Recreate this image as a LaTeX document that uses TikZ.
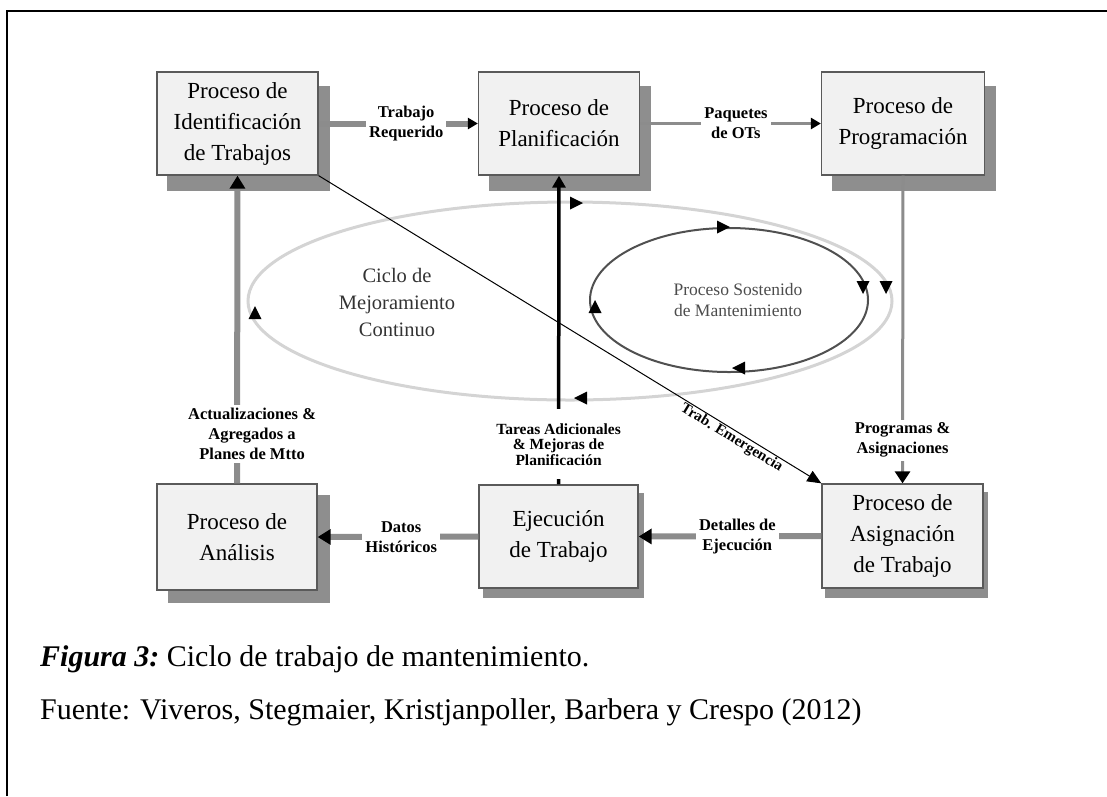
\documentclass[tikz,border=0pt]{standalone}
\usepackage{fontspec}
\setmainfont{Liberation Serif}
\usetikzlibrary{arrows.meta,backgrounds,calc}

\definecolor{boxfill}{HTML}{F1F1F1}
\definecolor{boxedge}{HTML}{5A5A5A}
\definecolor{shadowgray}{HTML}{8E8E8E}
\definecolor{flowgray}{HTML}{8C8C8C}
\definecolor{bigring}{HTML}{D4D4D4}
\definecolor{smallring}{HTML}{505050}

% filled arrowhead drawn on the two cycles: x, y, direction angle
\newcommand{\ringtip}[3]{\fill[black,shift={(#1,#2)},rotate=#3] (7,0) -- (-6,6.5) -- (-6,-6.5) -- cycle;}

\begin{document}
\begin{tikzpicture}[x=1pt,y=-1pt,
  box/.style={draw=boxedge,line width=1.3pt,fill=boxfill,align=center,inner sep=0pt,
    font=\fontsize{23}{31}\selectfont},
  lbl/.style={fill=white,align=center,inner sep=3pt,
    font=\bfseries\fontsize{16.5}{20}\selectfont},
  flow/.style={draw=flowgray,line width=6pt,
    -{Triangle[length=13pt,width=15pt,color=black]}},
  thinflow/.style={draw=flowgray,line width=3pt,
    -{Triangle[length=10pt,width=11pt,color=black]}},
]
\useasboundingbox (0,0) rectangle (1107,796);

% page frame (open at right and bottom)
\draw[line width=1.5pt] (7,796) -- (7,11) -- (1107,11);

% process boxes
\node[box,minimum width=161pt,minimum height=103pt] (b1) at (237.5,123.5) {Proceso de\\Identificación\\de Trabajos};
\node[box,minimum width=161pt,minimum height=103pt] (b2) at (559,123.5) {Proceso de\\Planificación};
\node[box,minimum width=163pt,minimum height=103pt] (b3) at (903,123.5) {Proceso de\\Programación};
\node[box,minimum width=160pt,minimum height=106pt] (b4) at (237,537) {Proceso de\\Análisis};
\node[box,minimum width=159pt,minimum height=103pt] (b5) at (558.5,536.5) {Ejecución\\de Trabajo};
\node[box,minimum width=161pt,minimum height=104pt] (b6) at (902.5,536) {Proceso de\\Asignación\\de Trabajo};

% drop shadows
\begin{scope}[on background layer]
  \foreach \b/\dx/\dy in {b1/11/15,b2/11/15,b3/11/15,b4/12/12,b5/5/9,b6/4/9}
    \fill[shadowgray] ([shift={(\dx,\dy)}]\b.north west) rectangle ([shift={(\dx,\dy)}]\b.south east);
\end{scope}

% continuous improvement cycle
\draw[bigring,line width=3pt] (570,301) ellipse [x radius=322,y radius=99];
\ringtip{576}{203}{0}
\ringtip{886}{287}{-90}
\ringtip{581}{398}{180}
\ringtip{255}{313}{90}

% sustained maintenance cycle
\draw[smallring,line width=2pt] (729,300) ellipse [x radius=139,y radius=72];
\ringtip{723}{227}{0}
\ringtip{863}{287}{-90}
\ringtip{739}{368}{180}
\ringtip{595}{307}{90}

\node[align=center,text=black!80,font=\fontsize{20.5}{27}\selectfont] (ciclo) at (397,302)
  {Ciclo de\\Mejoramiento\\Continuo};
\node[align=center,text=black!70,font=\fontsize{17.5}{21}\selectfont] (sost) at (738,300)
  {Proceso Sostenido\\de Mantenimiento};

% work flow connectors
\draw[flow,-{Triangle[length=10pt,width=11pt,color=black]}] (b1.east) -- node[lbl,pos=0.55] {Trabajo\\Requerido} (b2.west);
\draw[thinflow] (b2.east) -- node[lbl,pos=0.53] {Paquetes\\de OTs} (b3.west);
\draw[thinflow,-{Triangle[length=12pt,width=15pt,color=black]}] (b3.south) -- node[lbl,pos=0.86] {Programas \&\\Asignaciones} (b6.north);
\draw[flow] (b6.west) -- node[lbl,pos=0.46] {Detalles de\\Ejecución} (b5.east);
\draw[flow] (b5.west) -- node[lbl,pos=0.48] {Datos\\Históricos} (b4.east);
\draw[flow] (b4.north) -- node[lbl,pos=0.16,xshift=15pt] {Actualizaciones \&\\Agregados a\\Planes de Mtto} (b1.south);
\draw[black,line width=3.5pt,-{Triangle[length=12pt,width=13pt]}] (b5.north) --
  node[lbl,pos=0.13,inner ysep=14pt,font=\bfseries\fontsize{15.5}{15.5}\selectfont] {Tareas Adicionales\\\& Mejoras de\\Planificación} (b2.south);
\draw[black,line width=1pt,-{Triangle[length=14pt,width=12pt]}] (b1.south east) --
  node[sloped,below,pos=0.83,inner sep=1pt,font=\bfseries\fontsize{15}{16}\selectfont] {Trab. Emergencia} (b6.north west);

% caption
\node[anchor=base west,inner sep=0pt,font=\fontsize{30}{36}\selectfont] (cap) at (40,666)
  {\textbf{\textit{Figura 3:}}~Ciclo de trabajo de mantenimiento.};
\node[anchor=base west,inner sep=0pt,font=\fontsize{30}{36}\selectfont] (src) at (40,719)
  {Fuente: Viveros, Stegmaier, Kristjanpoller, Barbera y Crespo (2012)};
\end{tikzpicture}
\end{document}
